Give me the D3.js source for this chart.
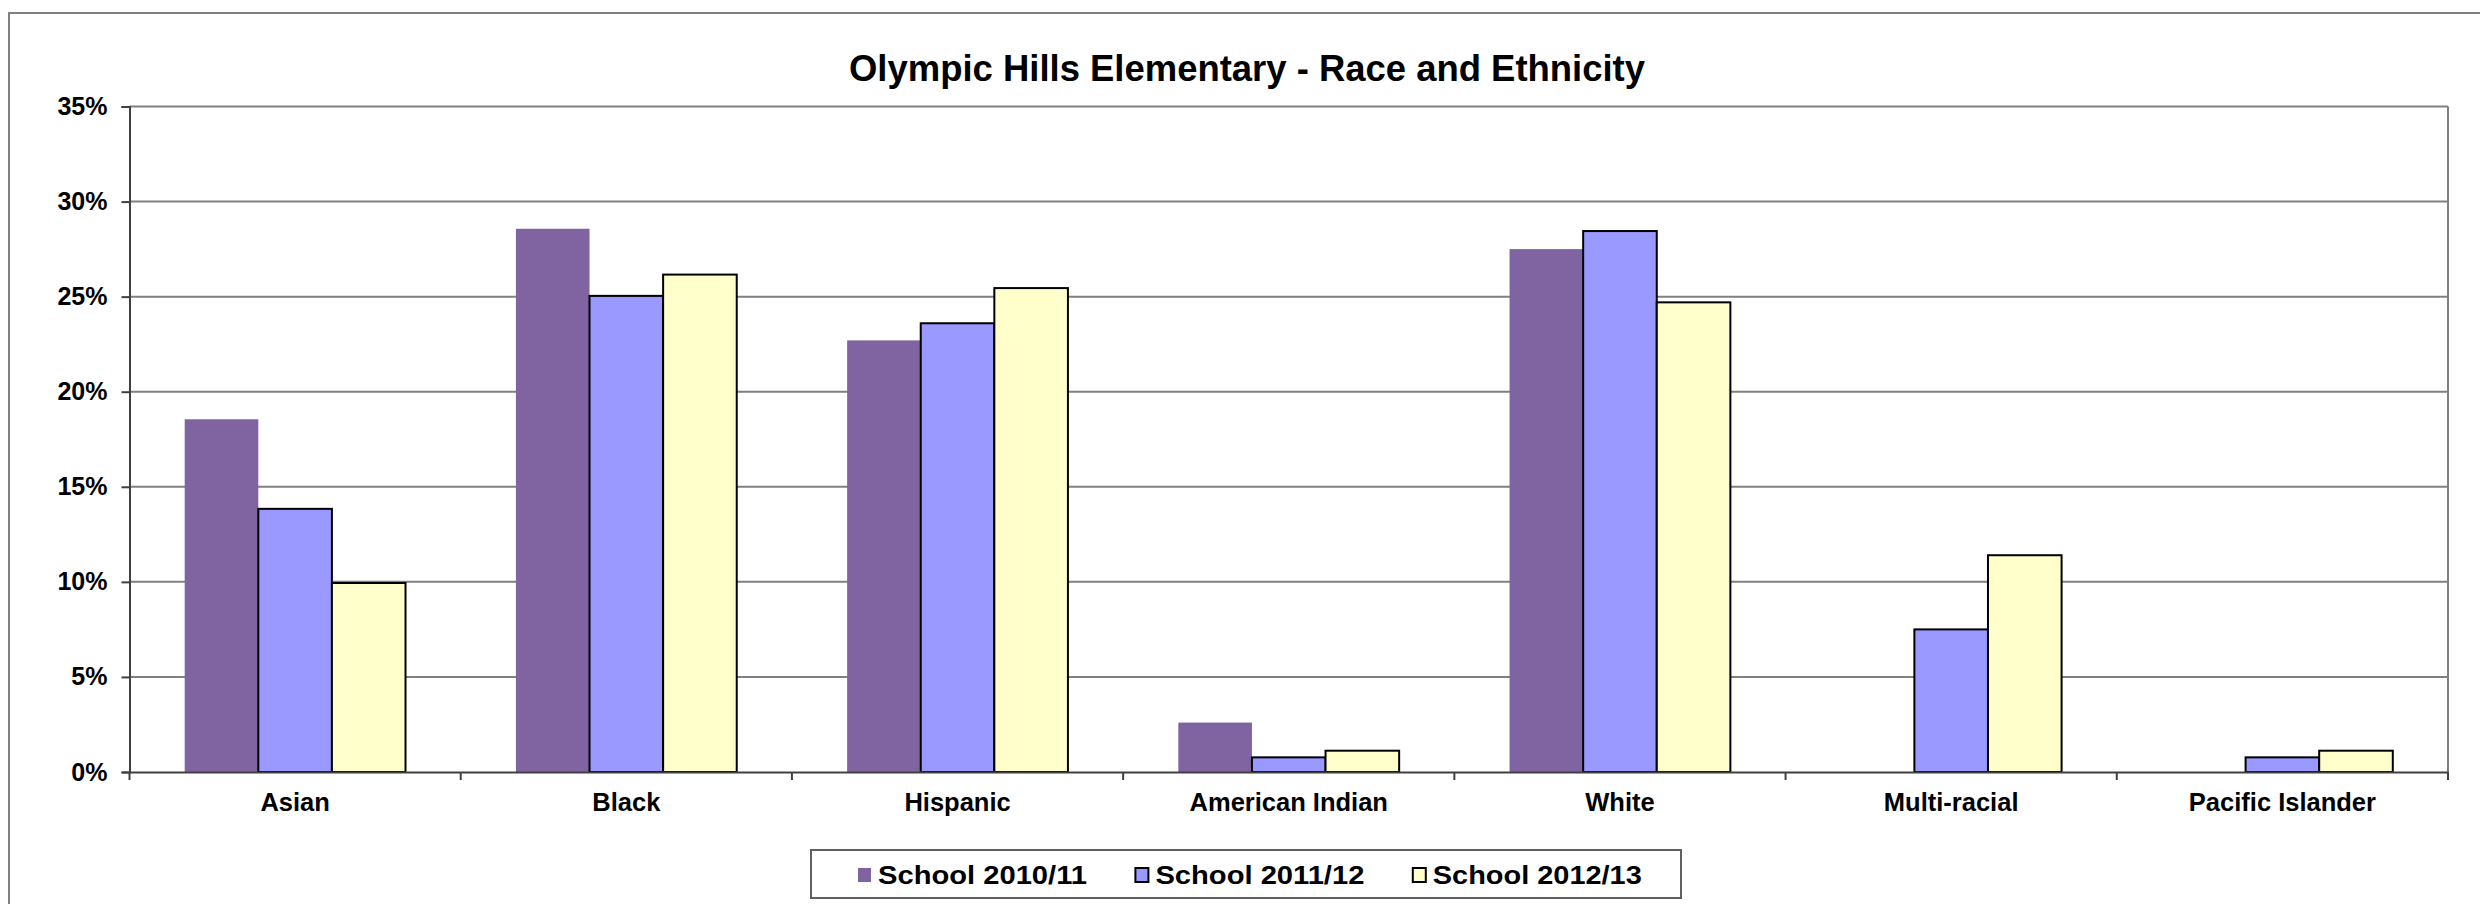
<!DOCTYPE html>
<html>
<head>
<meta charset="utf-8">
<script src="https://cdn.jsdelivr.net/npm/d3@7"></script>
<style>
  html, body { margin: 0; padding: 0; background: #fff; }
  svg { display: block; }
  text { font-family: "Liberation Sans", Arial, sans-serif; font-weight: bold; fill: #000; }
</style>
</head>
<body>
<svg id="chart" width="2480" height="904"></svg>
<script>
const title = "Olympic Hills Elementary - Race and Ethnicity";
const categories = ["Asian", "Black", "Hispanic", "American Indian", "White", "Multi-racial", "Pacific Islander"];
const seriesNames = ["School 2010/11", "School 2011/12", "School 2012/13"];
const values2010 = [18.55, 28.57, 22.7, 2.6, 27.5, 0, 0];
const values2011 = [13.84, 25.04, 23.6, 0.77, 28.45, 7.5, 0.77];
const values2012 = [9.94, 26.16, 25.45, 1.12, 24.7, 11.4, 1.12];
const yTicks = [0, 5, 10, 15, 20, 25, 30, 35];

const seriesValues = [values2010, values2011, values2012];
const fills = ["#8064A2", "#9999FF", "#FFFFCC"];
const strokes = ["none", "#000", "#000"];

const svg = d3.select("#chart");
const plot = { left: 129.5, right: 2448, top: 106.5, bottom: 772 };

// outer chart frame (extends beyond the picture on right and bottom)
svg.append("rect").attr("x", 9).attr("y", 13).attr("width", 2600).attr("height", 1000)
  .attr("fill", "#fff").attr("stroke", "#808080").attr("stroke-width", 2);

// title
svg.append("text").attr("x", 1247).attr("y", 81).attr("text-anchor", "middle")
  .attr("font-size", 36).attr("textLength", 796).attr("lengthAdjust", "spacingAndGlyphs").text(title);

const x0 = d3.scaleBand().domain(categories).range([plot.left, plot.right]).paddingInner(0).paddingOuter(0);
const x1 = d3.scaleBand().domain(d3.range(seriesNames.length)).range([0, x0.bandwidth()])
  .paddingInner(0).paddingOuter(0.75);
const y = d3.scaleLinear().domain([0, 35]).range([plot.bottom, plot.top]);

// gridlines
svg.append("g").selectAll("line").data(yTicks.filter(d => d > 0)).join("line")
  .attr("x1", plot.left).attr("x2", plot.right)
  .attr("y1", d => y(d)).attr("y2", d => y(d))
  .attr("stroke", "#808080").attr("stroke-width", 2);

// plot area right border
svg.append("line").attr("x1", plot.right).attr("x2", plot.right)
  .attr("y1", plot.top).attr("y2", plot.bottom)
  .attr("stroke", "#808080").attr("stroke-width", 2);

// bars
const groups = svg.append("g").selectAll("g").data(categories).join("g")
  .attr("transform", d => `translate(${x0(d)},0)`);
groups.selectAll("rect").data((c, ci) => seriesValues.map((vals, si) => ({ si, v: vals[ci] })))
  .join("rect")
  .attr("x", d => x1(d.si))
  .attr("width", x1.bandwidth())
  .attr("y", d => y(d.v))
  .attr("height", d => y(0) - y(d.v))
  .attr("fill", d => fills[d.si])
  .attr("stroke", d => d.v > 0 ? strokes[d.si] : "none")
  .attr("stroke-width", 2);

// y axis
const yAxis = svg.append("g").attr("transform", `translate(${plot.left},0)`)
  .call(d3.axisLeft(y).tickValues(yTicks).tickFormat(d => d + "%").tickSize(8).tickPadding(14));
yAxis.select(".domain").attr("stroke", "#404040").attr("stroke-width", 2);
yAxis.selectAll(".tick line").attr("stroke", "#404040").attr("stroke-width", 2);
yAxis.selectAll(".tick text").attr("font-size", 25).attr("font-family", "Liberation Sans, Arial, sans-serif")
  .attr("font-weight", "bold").attr("fill", "#000");

// x axis
const xAxis = svg.append("g").attr("transform", `translate(0,${plot.bottom})`)
  .call(d3.axisBottom(x0).tickSize(0).tickPadding(30));
xAxis.select(".domain").attr("stroke", "#404040").attr("stroke-width", 2);
xAxis.selectAll(".tick text").attr("font-size", 25.5).attr("font-family", "Liberation Sans, Arial, sans-serif")
  .attr("font-weight", "bold").attr("fill", "#000").attr("dy", "0.35em");
// category separator ticks
svg.append("g").selectAll("line").data(categories.concat([null])).join("line")
  .attr("x1", (d, i) => i < categories.length ? x0(d) : plot.right)
  .attr("x2", (d, i) => i < categories.length ? x0(d) : plot.right)
  .attr("y1", plot.bottom).attr("y2", plot.bottom + 8)
  .attr("stroke", "#404040").attr("stroke-width", 2);

// legend
const legend = svg.append("g");
legend.append("rect").attr("x", 811).attr("y", 850).attr("width", 870).attr("height", 48)
  .attr("fill", "#fff").attr("stroke", "#606060").attr("stroke-width", 2);
const items = legend.selectAll("g.item").data(seriesNames).join("g").attr("class", "item")
  .attr("transform", (d, i) => `translate(${857 + i * 277.4},0)`);
items.append("rect").attr("x", 1).attr("y", 868).attr("width", 13).attr("height", 14)
  .attr("fill", (d, i) => fills[i]).attr("stroke", (d, i) => strokes[i]).attr("stroke-width", 2);
items.append("text").attr("x", 21).attr("y", 884).attr("font-size", 26)
  .attr("textLength", 209).attr("lengthAdjust", "spacingAndGlyphs").text(d => d);
</script>
</body>
</html>
